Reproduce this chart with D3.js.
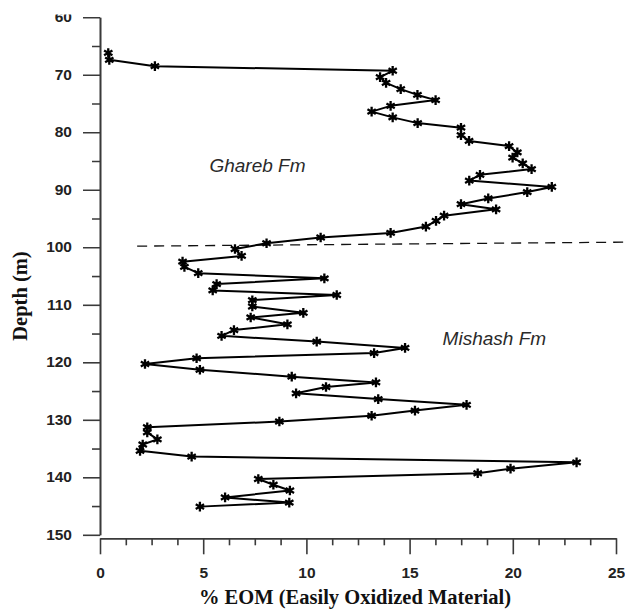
<!DOCTYPE html>
<html>
<head>
<meta charset="utf-8">
<script src="https://cdn.jsdelivr.net/npm/d3@7"></script>
<style>
  html, body { margin: 0; padding: 0; background: #fff; }
  svg { display: block; }
</style>
</head>
<body>
<div id="chart"></div>
<script>
// ---- Data ----
const depths = [66.2, 67.4, 68.5, 69.3, 70.4, 71.4, 72.5, 73.5, 74.4, 75.4, 76.4, 77.4, 78.4, 79.2, 80.5,
  81.5, 82.4, 83.5, 84.4, 85.4, 86.4, 87.4, 88.4, 89.5, 90.4, 91.5, 92.5, 93.4, 94.5, 95.4,
  96.4, 97.5, 98.3, 99.3, 100.3, 101.5, 102.5, 103.4, 104.5, 105.4, 106.4, 107.5, 108.3, 109.2, 110.3,
  111.4, 112.2, 113.4, 114.4, 115.4, 116.4, 117.5, 118.4, 119.3, 120.3, 121.3, 122.5, 123.5, 124.3, 125.4,
  126.4, 127.4, 128.4, 129.3, 130.3, 131.3, 132.2, 133.4, 134.3, 135.4, 136.4, 137.4, 138.5, 139.3, 140.3,
  141.3, 142.3, 143.5, 144.4, 145.1];
const eom = [0.40, 0.45, 2.66, 14.18, 13.57, 13.86, 14.57, 15.38, 16.26, 14.08, 13.16, 14.18, 15.39, 17.49, 17.49,
  17.88, 19.82, 20.22, 19.99, 20.48, 20.91, 18.41, 17.89, 21.89, 20.70, 18.81, 17.49, 19.19, 16.67, 16.28,
  15.79, 14.08, 10.69, 8.07, 6.54, 6.86, 4.00, 4.09, 4.76, 10.87, 5.65, 5.46, 11.47, 7.38, 7.38,
  9.85, 7.30, 9.08, 6.49, 5.89, 10.50, 14.78, 13.28, 4.68, 2.18, 4.84, 9.29, 13.37, 10.95, 9.50,
  13.48, 17.76, 15.26, 13.16, 8.69, 2.29, 2.29, 2.78, 2.07, 1.94, 4.44, 23.09, 19.89, 18.30, 7.67,
  8.40, 9.20, 6.06, 9.17, 4.84];

const xTicks = [0, 5, 10, 15, 20, 25];
const yTicks = [60, 70, 80, 90, 100, 110, 120, 130, 140, 150];
const boundaryEom = [1.8, 25.6];
const boundaryDepth = [99.8, 99.1];
const formationNames = ["Ghareb Fm", "Mishash Fm"];
const formationEom = [5.3, 16.6];
const formationDepth = [86.9, 117.0];
const xTitle = "% EOM (Easily Oxidized Material)";
const yTitle = "Depth (m)";

// ---- Chart ----
const W = 625, H = 610;
const svg = d3.select("#chart").append("svg").attr("width", W).attr("height", H);

const x = d3.scaleLinear().domain([0, 25]).range([100, 616]);
const y = d3.scaleLinear().domain([60, 150]).range([17.3, 534.8]);

const tickFont = "'Liberation Sans', Arial, sans-serif";
const axisColor = "#3a3a3a";

// clip for the cropped top of the picture (in the y-axis group's local coords)
svg.append("defs").append("clipPath").attr("id", "topcut")
  .append("rect").attr("x", -200).attr("y", 14.5).attr("width", W + 200).attr("height", H);

// Y axis
const yAxisG = svg.append("g").attr("transform", `translate(${x(0)},0)`).attr("clip-path", "url(#topcut)");
yAxisG.call(d3.axisLeft(y).tickValues(d3.range(65, 150, 10)).tickSize(8).tickFormat("").tickSizeOuter(0));
yAxisG.append("g").call(d3.axisLeft(y).tickValues(yTicks).tickSize(17).tickPadding(11).tickSizeOuter(0));
yAxisG.selectAll("path.domain").attr("stroke", axisColor).attr("stroke-width", 1.6);
yAxisG.selectAll("line").attr("stroke", axisColor).attr("stroke-width", 1.6);
yAxisG.selectAll("text").attr("font-family", tickFont).attr("font-weight", "bold")
  .attr("font-size", 15.5).attr("fill", "#222").attr("dy", "0.28em");

// X axis (offset just below depth 150)
const xAxisG = svg.append("g").attr("transform", `translate(0,${y(150) + 3.5})`);
xAxisG.call(d3.axisBottom(x).tickValues(d3.range(0, 25.01, 1.25).filter(v => v % 5 !== 0)).tickSize(7).tickFormat("").tickSizeOuter(0));
xAxisG.append("g").call(d3.axisBottom(x).tickValues(xTicks).tickSize(16).tickPadding(13).tickSizeOuter(0));
xAxisG.selectAll("path.domain").attr("stroke", axisColor).attr("stroke-width", 1.6);
xAxisG.selectAll("line").attr("stroke", axisColor).attr("stroke-width", 1.6);
xAxisG.selectAll("text").attr("font-family", tickFont).attr("font-weight", "bold")
  .attr("font-size", 15.5).attr("fill", "#222");

// Formation boundary (dashed)
const boundary = boundaryEom.map((v, i) => [v, boundaryDepth[i]]);
svg.append("path")
  .attr("d", d3.line().x(d => x(d[0])).y(d => y(d[1]))(boundary))
  .attr("fill", "none").attr("stroke", "#111").attr("stroke-width", 1.3)
  .attr("stroke-dasharray", "10,7");

// Profile line
const pts = depths.map((d, i) => ({ depth: d, v: eom[i] }));
svg.append("path")
  .attr("d", d3.line().x(d => x(d.v)).y(d => y(d.depth))(pts))
  .attr("fill", "none").attr("stroke", "#000").attr("stroke-width", 2)
  .attr("stroke-linejoin", "round");

// Markers
const sym = d3.symbol().type(d3.symbolAsterisk).size(65);
svg.append("g").selectAll("path").data(pts).join("path")
  .attr("transform", d => `translate(${x(d.v)},${y(d.depth)})`)
  .attr("d", sym)
  .attr("fill", "none").attr("stroke", "#000").attr("stroke-width", 2.3);

// Formation labels
svg.append("g").selectAll("text").data(formationNames).join("text")
  .attr("x", (d, i) => x(formationEom[i]))
  .attr("y", (d, i) => y(formationDepth[i]))
  .attr("font-family", "'Liberation Sans', Arial, sans-serif")
  .attr("font-style", "italic").attr("font-size", 19).attr("fill", "#2a2a2a")
  .text(d => d);

// Axis titles
svg.append("text")
  .attr("x", 355).attr("y", 604)
  .attr("text-anchor", "middle")
  .attr("font-family", "'Liberation Serif', 'Times New Roman', serif")
  .attr("font-weight", "bold").attr("font-size", 20.5).attr("fill", "#111")
  .text(xTitle);

svg.append("text")
  .attr("transform", "translate(27,296) rotate(-90)")
  .attr("text-anchor", "middle")
  .attr("font-family", "'Liberation Serif', 'Times New Roman', serif")
  .attr("font-weight", "bold").attr("font-size", 20.5).attr("fill", "#111")
  .text(yTitle);
</script>
</body>
</html>
